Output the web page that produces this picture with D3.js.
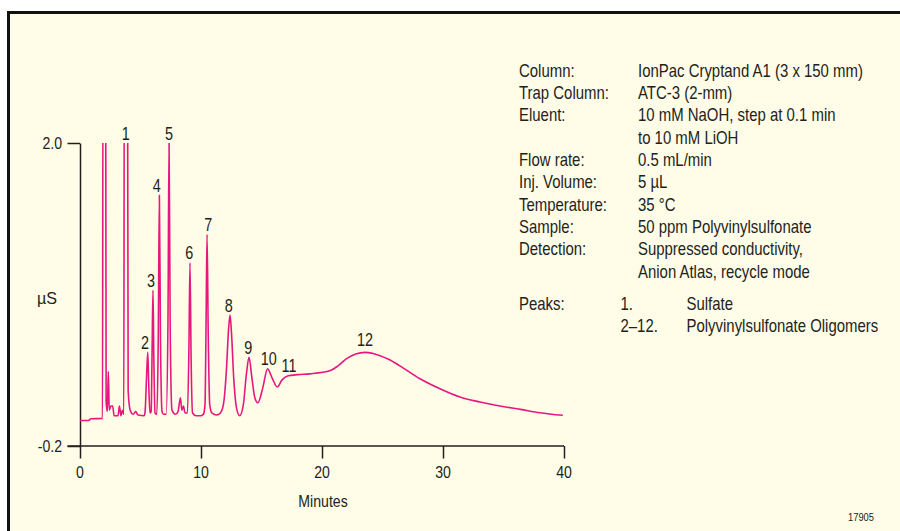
<!DOCTYPE html>
<html>
<head>
<meta charset="utf-8">
<script src="https://cdn.jsdelivr.net/npm/d3@7"></script>
<style>
  html, body { margin: 0; padding: 0; background: #ffffff; }
  svg { display: block; }
  text { font-family: "Liberation Sans", Arial, sans-serif; fill: #231f20; }
</style>
</head>
<body>
<svg id="chart" width="900" height="531"></svg>
<script>
// ---- data ----
const times = [0, 0.7, 0.9, 1.86, 1.9, 2.12, 2.16, 2.26, 2.34, 2.42, 2.55, 2.7, 2.82, 3.14, 3.26, 3.38, 3.5, 3.62,
  3.66, 3.93, 3.98, 4.15, 4.4, 4.6, 4.8, 5.3, 5.38, 5.5, 5.6, 5.68, 5.78, 5.88, 5.96, 6.03, 6.1, 6.2, 6.35, 6.47,
  6.56, 6.65, 6.78, 6.9, 7.12, 7.27, 7.36, 7.45, 7.6, 7.9, 8.1, 8.3, 8.42, 8.55, 8.68, 8.88, 9.0, 9.09, 9.18, 9.3,
  9.6, 10.0, 10.2, 10.33, 10.42, 10.5, 10.6, 10.72, 10.9, 11.3, 11.6, 11.85, 12.1, 12.28, 12.4, 12.52, 12.7, 12.95,
  13.2, 13.5, 13.75, 13.97, 14.2, 14.45, 14.7, 15.1, 15.5, 15.9, 16.3, 16.7, 17.2, 18.0, 19.0, 20.7, 21.3, 22.0,
  23.55, 24.8, 25.5, 26.4, 28.1, 29.75, 31.4, 33.06, 34.7, 36.4, 38.0, 39.9];
const signal = [-0.015, -0.015, -0.002, 0.0, 2.6, 2.6, 0.12, 0.05, 0.34, 0.06, 0.09, 0.09, 0.02, 0.02, 0.09, 0.02, 0.06, 0.03,
  2.6, 2.6, 0.2, 0.06, 0.03, 0.05, 0.025, 0.02, 0.05, 0.3, 0.48, 0.25, 0.04, 0.05, 0.5, 0.93, 0.45, 0.04, 0.03, 0.6,
  1.62, 0.6, 0.05, 0.03, 0.03, 0.7, 2.02, 0.7, 0.06, 0.03, 0.05, 0.15, 0.06, 0.09, 0.04, 0.04, 0.5, 1.13, 0.45, 0.04,
  0.02, 0.02, 0.03, 0.1, 0.7, 1.335, 0.6, 0.1, 0.04, 0.025, 0.04, 0.1, 0.35, 0.65, 0.75, 0.62, 0.3, 0.07,
  0.02, 0.1, 0.32, 0.444, 0.3, 0.15, 0.114, 0.22, 0.36, 0.29, 0.228, 0.28, 0.31, 0.318, 0.324, 0.348, 0.38, 0.432,
  0.48, 0.456, 0.43, 0.384, 0.288, 0.215, 0.155, 0.119, 0.09, 0.066, 0.042, 0.023];

const peakLabels = ["1", "2", "3", "4", "5", "6", "7", "8", "9", "10", "11", "12"];
const peakTimes  = [3.78, 5.37, 5.87, 6.34, 7.36, 9.03, 10.6, 12.3, 13.9, 15.6, 17.27, 23.55];
const peakHeights = [2.0, 0.48, 0.93, 1.62, 2.0, 1.13, 1.335, 0.75, 0.444, 0.36, 0.31, 0.5];

const xTicks = [0, 10, 20, 30, 40];
const yTicks = [2.0, -0.2];
const yTickLabels = ["2.0", "-0.2"];
const xTitle = "Minutes";
const yTitle = "µS";

const condLabels = ["Column:", "Trap Column:", "Eluent:", "", "Flow rate:", "Inj. Volume:", "Temperature:", "Sample:", "Detection:", ""];
const condValues = ["IonPac Cryptand A1 (3 x 150 mm)", "ATC-3 (2-mm)", "10 mM NaOH, step at 0.1 min", "to 10 mM LiOH",
  "0.5 mL/min", "5 µL", "35 °C", "50 ppm Polyvinylsulfonate", "Suppressed conductivity,", "Anion Atlas, recycle mode"];
const peakNums = ["1.", "2–12."];
const peakNames = ["Sulfate", "Polyvinylsulfonate Oligomers"];
const figId = "17905";

// ---- drawing ----
const svg = d3.select("#chart");
const ink = "#231f20";
const trace = "#e8177f";
const narrow = 0.83; // condensed face emulation

function label(parent, px, py, str, size, anchor, k) {
  return parent.append("text")
    .attr("transform", `translate(${px},${py}) scale(${k || narrow},1)`)
    .attr("text-anchor", anchor || "start")
    .style("font-size", size + "px")
    .text(str);
}

// panel frame
svg.append("rect").attr("x", 8.5).attr("y", 12.5).attr("width", 900).attr("height", 530)
  .attr("fill", "#fffce8").attr("stroke", "#111").attr("stroke-width", 3);

const x = d3.scaleLinear().domain([0, 40]).range([80, 564]);
const y = d3.scaleLinear().domain([-0.2, 2.0]).range([446, 143]);

svg.append("defs").append("clipPath").attr("id", "plotclip")
  .append("rect").attr("x", 60).attr("y", y(2.0)).attr("width", 520).attr("height", 320);

// axes
const xAxis = d3.axisBottom(x).tickValues(xTicks).tickSize(12.5).tickSizeOuter(0).tickFormat(() => "");
const gx = svg.append("g").attr("transform", `translate(0,${y(-0.2)})`).call(xAxis);
const yAxis = d3.axisLeft(y).tickValues(yTicks).tickSize(12.5).tickSizeOuter(0).tickFormat(() => "");
const gy = svg.append("g").attr("transform", `translate(${x(0)},0)`).call(yAxis);
[gx, gy].forEach(g => {
  g.selectAll("path.domain").attr("stroke", ink).attr("stroke-width", 1.5);
  g.selectAll(".tick line").attr("stroke", ink).attr("stroke-width", 1.5);
});
gx.select("path.domain").attr("d", `M${x(0) - 12.5},0H${x(40)}`);

// tick labels
const tl = svg.append("g");
xTicks.forEach(t => label(tl, x(t), 478, String(t), 17, "middle"));
yTicks.forEach((v, i) => label(tl, 62, y(v) + 6, yTickLabels[i], 17, "end"));

label(svg, 323, 506.5, xTitle, 17, "middle");
label(svg, 47, 304, yTitle, 17, "middle", 0.95);

// trace
const pts = times.map((t, i) => [t, signal[i]]);
const line = d3.line().x(d => x(d[0])).y(d => y(d[1])).curve(d3.curveMonotoneX);
svg.append("path").datum(pts).attr("clip-path", "url(#plotclip)")
  .attr("d", line).attr("fill", "none").attr("stroke", trace).attr("stroke-width", 1.6)
  .attr("stroke-linejoin", "round");

// peak labels
const pl = svg.append("g");
peakLabels.forEach((d, i) => label(pl, x(peakTimes[i]), y(peakHeights[i]) - 3.5, d, 18, "middle", 0.8));

// conditions block
const rowH = 22.35;
const cond = svg.append("g");
condLabels.forEach((t, i) => {
  if (t) label(cond, 519, 76.5 + i * rowH, t, 18);
  label(cond, 638, 76.5 + i * rowH, condValues[i], 18);
});
label(cond, 519, 310, "Peaks:", 18);
peakNums.forEach((t, i) => {
  const yy = 310 + i * rowH;
  label(cond, 620.5, yy, t, 18);
  label(cond, 686.5, yy, peakNames[i], 18);
});

label(svg, 874, 521, figId, 11, "end", 0.85);
</script>
</body>
</html>
